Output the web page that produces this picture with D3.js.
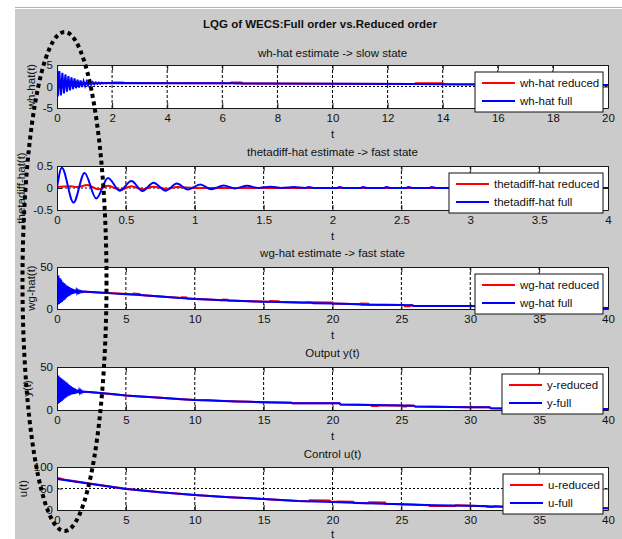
<!DOCTYPE html>
<html><head><meta charset="utf-8">
<script src="https://cdn.jsdelivr.net/npm/d3@7/dist/d3.min.js"></script>
<style>body{margin:0;background:#fff}svg{display:block}text{font-family:"Liberation Sans",Arial,sans-serif;fill:#111}</style>
</head><body><svg id="c" width="622" height="539"></svg>
<script>
// ---------- data ----------
const mainTitle = "LQG of WECS:Full order vs.Reduced order";
const titles = ["wh-hat estimate -> slow state","thetadiff-hat estimate -> fast state","wg-hat estimate -> fast state","Output y(t)","Control u(t)"];
const yLabels = ["wh-hat(t)","thetadiff-hat(t)","wg-hat(t)","y(t)","u(t)"];
const legendNames = [["wh-hat reduced","wh-hat full"],["thetadiff-hat reduced","thetadiff-hat full"],["wg-hat reduced","wg-hat full"],["y-reduced","y-full"],["u-reduced","u-full"]];
const xDomains = [[0,20],[0,4],[0,40],[0,40],[0,40]];
const yDomains = [[-5,5],[-0.5,0.5],[0,50],[0,50],[0,100]];
const xTicks1 = [0,2,4,6,8,10,12,14,16,18,20];
const xTicks2 = [0,0.5,1,1.5,2,2.5,3,3.5,4];
const xTicks40 = [0,5,10,15,20,25,30,35,40];
const yTicks1 = [-5,0,5];
const yTicks2 = [-0.5,0,0.5];
const yTicks3 = [0,50];
const yTicks5 = [0,50,100];

const whFull = [[0,5.5],[0.03,-2.3],[0.085,3.6],[0.14,-2.1],[0.195,3.2],[0.25,-1.6],[0.305,2.8],[0.36,-1.2],[0.415,2.4],[0.47,-0.9],[0.525,2.1],[0.58,-0.6],[0.635,1.9],[0.69,-0.4],[0.745,1.6],[0.8,-0.25],[0.855,1.4],[0.91,-0.1],[0.965,1.25],[1.02,0.1],[1.075,1.15],[1.13,0.25],[1.185,1.05],[1.24,0.4],[1.295,1.0],[1.35,0.5],[1.405,0.95],[1.46,0.6],[1.515,0.9],[1.57,0.65],[1.625,0.88],[1.68,0.7],[1.735,0.85],[1.79,0.72],[1.845,0.84],[1.9,0.75],[2.0,0.8],[4,0.78],[6.4,0.76],[6.45,0.68],[10,0.64],[13,0.58],[14,0.5],[16,0.45],[18,0.4],[20,0.35]];
const whReduced = [[0,0],[0.05,0.7],[0.12,1.0],[0.25,0.6],[0.4,0.9],[0.55,0.7],[0.8,0.85],[1.2,0.78],[2.0,0.8],[2.05,0.95],[2.4,0.95],[2.45,0.8],[6.3,0.76],[6.32,0.92],[6.7,0.92],[6.72,0.7],[13.0,0.6],[13.02,0.78],[14.0,0.78],[14.02,0.5],[20,0.35]];

const thetaFull = [[0,0],[0.035,0.46],[0.12,-0.33],[0.2,0.34],[0.285,-0.24],[0.37,0.23],[0.455,-0.06],[0.54,0.16],[0.62,-0.07],[0.7,0.12],[0.79,-0.06],[0.87,0.1],[0.95,-0.035],[1.04,0.08],[1.12,-0.03],[1.21,0.055],[1.29,-0.01],[1.38,0.05],[1.46,0],[1.55,0.03],[1.63,0],[1.72,0.02],[1.8,0],[1.83,0.02],[1.86,0],[2.03,0],[2.05,0.02],[2.08,0],[2.2,0],[2.22,0.02],[2.25,0],[2.37,0],[2.39,0.02],[2.42,0],[2.53,0],[2.55,0.02],[2.58,0],[2.7,0],[2.72,0.02],[2.75,0],[4,0]];
const thetaReduced = [[0,0],[0.02,0.03],[0.1,0.04],[0.15,0.02],[0.22,0.07],[0.3,-0.03],[0.37,0.05],[0.46,-0.04],[0.54,0.04],[0.62,-0.03],[0.7,0.03],[0.79,-0.02],[0.87,0.02],[1.0,0],[4,0]];

const wgFull = [[0,42],[0.05,5],[0.1,40],[0.15,6],[0.2,37],[0.25,7.2],[0.3,35],[0.35,8.5],[0.4,32.5],[0.45,9.8],[0.5,31],[0.55,11.2],[0.6,29.5],[0.65,12.8],[0.7,28],[0.75,14.3],[0.8,27],[0.85,15.5],[0.9,26],[0.95,16.5],[1.0,25],[1.05,17.5],[1.1,24.3],[1.15,18],[1.2,23.5],[1.25,18.6],[1.3,22.8],[1.35,19.1],[1.4,22.2],[1.45,19.4],[1.5,21.8],[1.55,19.7],[1.6,21.5],[1.65,19.9],[1.7,21.2],[1.75,20.1],[1.8,21],[1.85,20.3],[1.9,20.8],[2.2,20.5],[3,19.6],[4,18.6],[5,17.6],[6,16.6],[7,15.4],[8,14.4],[9,13.2],[10,12],[11,11.2],[12,10.4],[13,9.8],[14,9.2],[15,8.7],[16,8.3],[17,7.9],[18.5,7.3],[18.6,6.7],[20,6.5],[22,5.8],[22.1,5.0],[25,4.8],[25.8,4.6],[25.9,3.7],[30,3.5],[33,2.8],[36,2.2],[40,1.3]];
const wgReduced = [[0,20],[0.3,22],[2,20.6],[5.5,17.6],[5.55,18.4],[6.0,18.0],[6.05,16.6],[9,13.2],[9.05,14.0],[9.4,13.8],[9.45,12.6],[12,10.4],[12.05,11.2],[12.4,11.0],[12.45,10.1],[15.4,8.5],[15.45,9.4],[16.1,9.1],[16.15,8.2],[18,7.5],[18.05,8.1],[20,7.6],[20.05,6.4],[22,5.8],[22.05,6.6],[22.6,6.4],[22.65,5.4],[25.2,4.7],[25.25,3.4],[25.6,3.4],[25.65,4.5],[25.9,3.7],[30,3.5],[33,2.8],[36,2.2],[40,1.3]];

const yFull = [[0,42],[0.05,7],[0.1,40],[0.15,8.3],[0.2,38],[0.25,9.4],[0.3,36.8],[0.35,10.6],[0.4,35.6],[0.45,12],[0.5,34.4],[0.55,13.3],[0.6,33.2],[0.65,14.6],[0.7,32],[0.75,15.9],[0.8,30.6],[0.85,16.6],[0.9,29.1],[0.95,17.2],[1.0,27.7],[1.05,18],[1.1,26.6],[1.15,18.4],[1.2,25.7],[1.25,18.8],[1.3,24.9],[1.35,19.2],[1.4,24],[1.45,19.6],[1.5,23.4],[1.55,19.9],[1.6,22.9],[1.65,20.2],[1.7,22.4],[1.75,20.4],[1.8,22],[1.85,20.7],[1.9,21.5],[2.3,21],[3,20],[4,18.5],[5,16.8],[6,15.8],[7,14.8],[8,13.8],[9,12.6],[10,11.7],[11,11.2],[12,10.6],[13,10],[14,9.5],[15,9],[16,8.7],[17,8.5],[17.1,7.9],[20.5,7.8],[20.6,6.3],[23,5.8],[25,5.2],[25.9,5.0],[26,4.0],[30,3.2],[31.4,3.1],[31.5,2.0],[40,1.3]];
const yReduced = [[0,21],[2.3,21],[5,16.8],[10,11.7],[15,9],[17,8.5],[17.1,7.9],[20.5,7.8],[20.6,6.3],[22.8,5.9],[22.85,4.6],[23.3,4.6],[23.35,5.6],[25.1,5.2],[25.15,4.0],[25.35,4.0],[25.4,5.1],[25.9,5.0],[26,4.0],[30,3.2],[31.4,3.1],[31.5,2.0],[40,1.3]];

const uFull = [[0,72],[2.5,60.5],[5,49],[7.5,41],[10,35],[12.5,29.5],[15,25.6],[17.5,21],[20,18.8],[22.5,15.6],[25,13.2],[27.5,11],[30,10],[32.5,7.8],[35,5.6],[37.5,4.6],[40,3.9]];
const uReduced = [[0,75],[0.5,71],[2.5,61],[5,49.5],[7.5,41.5],[10,35],[12.5,29.5],[15,25.6],[17.5,21],[18.3,20.2],[18.35,22.5],[19.8,22],[19.85,19.3],[20.3,19],[20.35,19.8],[21.5,19.4],[21.55,16.3],[22.6,15.5],[22.65,17.8],[23.8,17.2],[23.85,14.3],[25,13.2],[27,11.3],[27.05,9.3],[28.9,9.1],[28.95,10.9],[30,10],[31.2,8.8],[31.25,7],[31.7,7],[31.75,8.5],[32.5,7.8],[35,5.6],[37.5,4.6],[40,3.9]];

// ---------- layout ----------
const L = 57, R = 608;
const tops = [65,166,267,367,467], bottoms = [108,210,309,410,510];
const titleYs = [56.5,156,256.7,356.7,458];
const yLabelXs = [35,25,35,31,27];
const legendLefts = [475,449,475,502,503];
const xTickSets = [xTicks1,xTicks2,xTicks40,xTicks40,xTicks40];
const yTickSets = [yTicks1,yTicks2,yTicks3,yTicks3,yTicks5];
const reds = [whReduced,thetaReduced,wgReduced,yReduced,uReduced];
const blues = [whFull,thetaFull,wgFull,yFull,uFull];
const smooth = [false,true,false,false,false];

const svg = d3.select("#c");
svg.append("rect").attr("x",15).attr("y",9).attr("width",607).attr("height",530).attr("fill","#cbcbcb");
svg.append("line").attr("x1",15).attr("x2",622).attr("y1",7.5).attr("y2",7.5).attr("stroke","#b4b4b4");
svg.append("text").attr("x",320).attr("y",27.5).attr("text-anchor","middle")
  .style("font-size","11.5px").style("font-weight","bold").text(mainTitle);

const FS = "11.5px";
for (let i=0;i<5;i++){
  const x = d3.scaleLinear().domain(xDomains[i]).range([L,R]);
  const y = d3.scaleLinear().domain(yDomains[i]).range([bottoms[i],tops[i]]);
  const g = svg.append("g");
  g.append("rect").attr("x",L).attr("y",tops[i]).attr("width",R-L).attr("height",bottoms[i]-tops[i]).attr("fill","#fff");
  // grid
  xTickSets[i].forEach(t=>{ if(t>xDomains[i][0]&&t<xDomains[i][1])
    g.append("line").attr("x1",x(t)).attr("x2",x(t)).attr("y1",tops[i]).attr("y2",bottoms[i]).attr("stroke","#000").attr("stroke-dasharray","3,2").attr("stroke-width",1);});
  yTickSets[i].forEach(t=>{ if(t>yDomains[i][0]&&t<yDomains[i][1])
    g.append("line").attr("x1",L).attr("x2",R).attr("y1",y(t)).attr("y2",y(t)).attr("stroke","#000").attr("stroke-dasharray","2,2").attr("stroke-width",1);});
  // clip
  const cid="clip"+i;
  svg.append("clipPath").attr("id",cid).append("rect").attr("x",L).attr("y",tops[i]).attr("width",R-L).attr("height",bottoms[i]-tops[i]);
  const line = d3.line().x(d=>x(d[0])).y(d=>y(d[1])).curve(smooth[i]?d3.curveMonotoneX:d3.curveLinear);
  g.append("path").datum(reds[i]).attr("d",line).attr("fill","none").attr("stroke","#ff0000").attr("stroke-width",2).attr("clip-path",`url(#${cid})`);
  g.append("path").datum(blues[i]).attr("d",line).attr("fill","none").attr("stroke","#0000ff").attr("stroke-width",2).attr("clip-path",`url(#${cid})`);
  // axes
  const fmt = d=>String(d);
  const ax = g.append("g").attr("transform",`translate(0,${bottoms[i]})`).call(d3.axisBottom(x).tickValues(xTickSets[i]).tickFormat(fmt).tickSizeInner(-5).tickSizeOuter(0).tickPadding(5));
  const axT = g.append("g").attr("transform",`translate(0,${tops[i]})`).call(d3.axisTop(x).tickValues(xTickSets[i]).tickFormat("").tickSizeInner(-5).tickSizeOuter(0));
  const ay = g.append("g").attr("transform",`translate(${L},0)`).call(d3.axisLeft(y).tickValues(yTickSets[i]).tickFormat(fmt).tickSizeInner(-5).tickSizeOuter(0).tickPadding(4));
  const ayR = g.append("g").attr("transform",`translate(${R},0)`).call(d3.axisRight(y).tickValues(yTickSets[i]).tickFormat("").tickSizeInner(-5).tickSizeOuter(0));
  [ax,axT,ay,ayR].forEach(a=>{a.selectAll("path").attr("stroke","#1a1a1a"); a.selectAll("line").attr("stroke","#1a1a1a");
    a.selectAll("text").style("font-size",FS).style("font-family",'"Liberation Sans",Arial,sans-serif').attr("fill","#111");});
  ax.selectAll("text").attr("dy","0.71em").attr("y",6);
  ay.selectAll("text").attr("x",-4);
  // labels
  g.append("text").attr("x",332.5).attr("y",titleYs[i]).attr("text-anchor","middle").style("font-size",FS).text(titles[i]);
  g.append("text").attr("x",332.5).attr("y",Math.min(bottoms[i]+30,538)).attr("text-anchor","middle").style("font-size",FS).text("t");
  g.append("text").attr("transform",`translate(${yLabelXs[i]},${(tops[i]+bottoms[i])/2}) rotate(-90)`).attr("text-anchor","middle").style("font-size",FS).text(yLabels[i]);
  // legend
  const lx = legendLefts[i], ly = tops[i]+7, lw = R-5-lx, lh = 40;
  const lg = svg.append("g");
  lg.append("rect").attr("x",lx).attr("y",ly).attr("width",lw).attr("height",lh).attr("fill","#fff").attr("stroke","#111").attr("stroke-width",1);
  ["#ff0000","#0000ff"].forEach((c,k)=>{
    const ry = ly+11+k*18;
    lg.append("line").attr("x1",lx+7).attr("x2",lx+40).attr("y1",ry).attr("y2",ry).attr("stroke",c).attr("stroke-width",2);
    lg.append("text").attr("x",lx+45).attr("y",ry+4).style("font-size",FS).text(legendNames[i][k]);
  });
}
// dotted ellipse annotation
svg.append("ellipse").attr("cx",64.5).attr("cy",281.5).attr("rx",42).attr("ry",249.5)
  .attr("fill","none").attr("stroke","#000").attr("stroke-width",4).attr("stroke-dasharray","4,3.5");
</script></body></html>
